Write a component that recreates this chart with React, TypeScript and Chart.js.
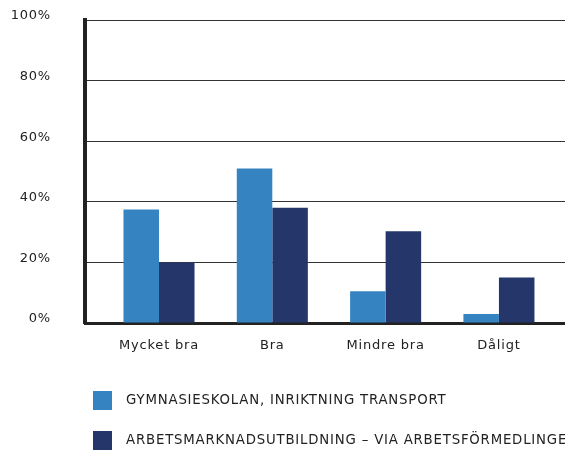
import React, { useEffect, useRef } from 'react';
import { Chart, registerables } from 'chart.js';

Chart.register(...registerables);

const categories = ['Mycket bra', 'Bra', 'Mindre bra', 'Dåligt'];
const gymnasieskolan = [37.5, 51, 10.5, 3];
const arbetsmarknad = [20, 38, 30.3, 15];
const seriesNames = [
  'GYMNASIESKOLAN, INRIKTNING TRANSPORT',
  'ARBETSMARKNADSUTBILDNING – VIA ARBETSFÖRMEDLINGEN',
];
const seriesColors = ['#3584c1', '#25366a'];
const yMax = 100;
const yStep = 20;

const letterSpacingPlugin = {
  id: 'letterSpacing',
  beforeUpdate(chart: any) {
    chart.ctx.letterSpacing = '0.8px';
  },
  afterLayout(chart: any) {
    // align the legend block with the reference (starts left of the plot)
    if (chart.legend) chart.legend.left = 72;
  },
  beforeDraw(chart: any) {
    chart.ctx.letterSpacing = '0.8px';
  },
};

export default function App() {
  const ref = useRef<HTMLCanvasElement>(null);
  useEffect(() => {
    if (!ref.current) return;
    Chart.defaults.font.family = "'DejaVu Sans', sans-serif";
    Chart.defaults.color = '#222';
    const chart = new Chart(ref.current, {
      type: 'bar',
      data: {
        datasets: [
          {
            label: '\u2002' + seriesNames[0],
            data: categories.map((_, i) => ({ x: i, y: gymnasieskolan[i] })),
            backgroundColor: seriesColors[0],
            borderWidth: 0,
          },
          {
            label: '\u2002' + seriesNames[1],
            data: categories.map((_, i) => ({ x: i, y: arbetsmarknad[i] })),
            backgroundColor: seriesColors[1],
            borderWidth: 0,
          },
        ],
      },
      options: {
        responsive: false,
        animation: false,
        layout: { padding: { left: 0, top: 20, right: 0, bottom: -10 } },
        datasets: { bar: { categoryPercentage: 0.627, barPercentage: 1 } },
        scales: {
          x: {
            type: 'linear',
            min: -0.653,
            max: 3.583,
            offset: false,
            grid: { display: false, offset: false, drawTicks: false },
            border: { display: true, width: 3, color: '#222' },
            ticks: {
              stepSize: 1,
              includeBounds: false,
              maxRotation: 0,
              autoSkip: false,
              padding: 15,
              font: { size: 13 },
              color: '#222',
              callback: (v: any) =>
                Number.isInteger(v) && categories[v] !== undefined ? categories[v] : '',
            },
            afterFit: (s: any) => {
              s.height = 47;
            },
          },
          y: {
            min: 0,
            max: yMax,
            grid: {
              color: '#333',
              lineWidth: 1,
              drawTicks: true,
              tickLength: 34,
              tickColor: 'rgba(0,0,0,0)',
            },
            border: { display: true, width: 4, color: '#222' },
            ticks: {
              stepSize: yStep,
              padding: 0,
              labelOffset: -4,
              font: { size: 13 },
              color: '#222',
              callback: (v: any) => v + '%',
            },
            afterFit: (s: any) => {
              s.width = 85;
            },
          },
        },
        plugins: {
          legend: {
            position: 'bottom',
            align: 'start',
            labels: {
              boxWidth: 19,
              boxHeight: 19,
              padding: 21,
              font: { size: 13.3 },
              color: '#222',
            },
          },
          tooltip: { enabled: false },
        },
      },
      plugins: [letterSpacingPlugin],
    } as any);
    return () => chart.destroy();
  }, []);
  return (
    <div style={{ position: 'absolute', left: 0, top: 0, width: 565, height: 450, overflow: 'hidden' }}>
      <canvas ref={ref} width={565} height={450} />
    </div>
  );
}
